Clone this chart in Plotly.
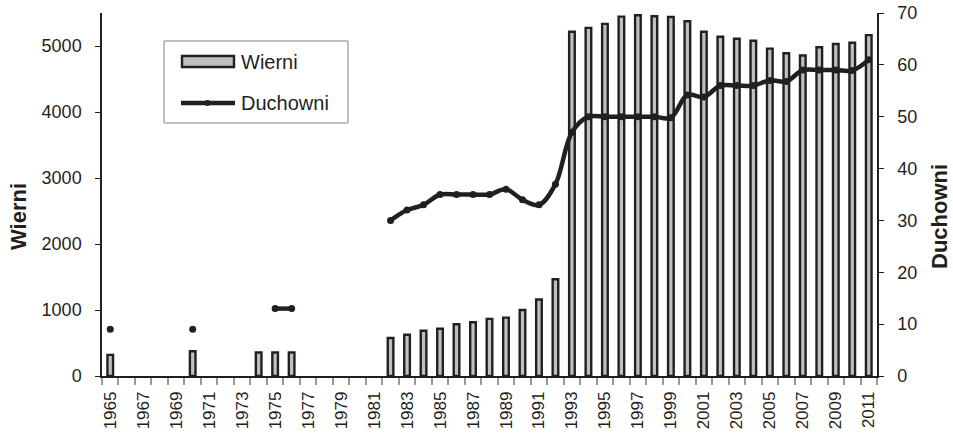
import plotly.graph_objects as go

# Years on the category axis
years = list(range(1965, 2012))

# Wierni (left axis) — None where no data was recorded
wierni = [
    320, None, None, None, None, 375, None, None, None, 355,
    355, 355, None, None, None, None, None, 575, 625, 685,
    715, 785, 815, 865, 885, 1000, 1160, 1465, 5215, 5275,
    5335, 5445, 5465, 5450, 5440, 5375, 5215, 5140, 5110, 5080,
    4960, 4890, 4855, 4980, 5030, 5050, 5165,
]

# Duchowni (right axis)
duchowni = [
    9, None, None, None, None, 9, None, None, None, None,
    13, 13, None, None, None, None, None, 30, 32, 33,
    35, 35, 35, 35, 36, 34, 33, 37, 47, 50,
    50, 50, 50, 50, 49.8, 54.2, 53.8, 56, 56, 56,
    57, 56.8, 59, 59, 59, 58.9, 61,
]

# Axis tick labels
x_tick_years = list(range(1965, 2012, 2))
left_ticks = [0, 1000, 2000, 3000, 4000, 5000]
right_ticks = [0, 10, 20, 30, 40, 50, 60, 70]

W, H = 953, 434
ML, MR, MT, MB = 102, 76, 13, 58
PW, PH = W - ML - MR, H - MT - MB

INK = "#231f20"
FONT = "Liberation Sans, Arial, sans-serif"


def px_x(px):
    return (px - ML) / PW


def px_y(py):
    return (H - MB - py) / PH


fig = go.Figure()

fig.add_trace(go.Bar(
    x=years, y=wierni, name="Wierni", width=0.34,
    marker=dict(color="#c0c0c0", line=dict(color=INK, width=2.4)),
    showlegend=False,
))

fig.add_trace(go.Scatter(
    x=years, y=duchowni, name="Duchowni", yaxis="y2",
    mode="lines+markers", connectgaps=False,
    line=dict(color=INK, width=4.5, shape="spline", smoothing=1),
    marker=dict(color=INK, size=7),
    showlegend=False,
))

# Legend box drawn in the Excel style (wide bar swatch, line with dot)
shapes = [
    dict(type="rect", xref="paper", yref="paper",
         x0=px_x(164), x1=px_x(348), y0=px_y(123), y1=px_y(41),
         line=dict(color="#808080", width=1), fillcolor="white", layer="above"),
    dict(type="rect", xref="paper", yref="paper",
         x0=px_x(182), x1=px_x(234), y0=px_y(67), y1=px_y(56),
         line=dict(color=INK, width=2.4), fillcolor="#c0c0c0", layer="above"),
    dict(type="line", xref="paper", yref="paper",
         x0=px_x(181), x1=px_x(235), y0=px_y(103), y1=px_y(103),
         line=dict(color=INK, width=4.5), layer="above"),
    dict(type="circle", xref="paper", yref="paper",
         x0=px_x(204.5), x1=px_x(210.5), y0=px_y(106), y1=px_y(100),
         line=dict(color=INK, width=0), fillcolor=INK, layer="above"),
]

annotations = [
    dict(text="Wierni", xref="paper", yref="paper", x=px_x(239), y=px_y(62),
         xanchor="left", yanchor="middle", showarrow=False,
         font=dict(family=FONT, size=20, color=INK)),
    dict(text="Duchowni", xref="paper", yref="paper", x=px_x(239), y=px_y(103),
         xanchor="left", yanchor="middle", showarrow=False,
         font=dict(family=FONT, size=20, color=INK)),
    dict(text="<b>Wierni</b>", xref="paper", yref="paper", x=px_x(18), y=px_y(217),
         xanchor="center", yanchor="middle", showarrow=False, textangle=-90,
         font=dict(family=FONT, size=22, color=INK)),
    dict(text="<b>Duchowni</b>", xref="paper", yref="paper", x=px_x(939), y=px_y(217),
         xanchor="center", yanchor="middle", showarrow=False, textangle=-90,
         font=dict(family=FONT, size=22, color=INK)),
]

fig.update_layout(
    width=W, height=H,
    margin=dict(l=ML, r=MR, t=MT, b=MB, pad=0),
    paper_bgcolor="white", plot_bgcolor="white",
    font=dict(family=FONT, size=17, color=INK),
    shapes=shapes,
    annotations=annotations,
    xaxis=dict(
        range=[1964.5, 2011.5], automargin=False,
        tickmode="array", tickvals=x_tick_years,
        ticktext=[str(y) for y in x_tick_years],
        tickangle=-90, ticks="", ticklen=0, ticklabelstandoff=7,
        tickfont=dict(family=FONT, size=17, color=INK),
        showgrid=False, zeroline=False,
        showline=True, linecolor=INK, linewidth=1.5,
        minor=dict(tickmode="array",
                   tickvals=[y + 0.5 for y in range(1964, 2012)],
                   ticks="outside", ticklen=7, tickcolor="#9a9a9a",
                   tickwidth=1.5, showgrid=False),
    ),
    yaxis=dict(
        range=[0, 5500], automargin=False,
        tickmode="array", tickvals=left_ticks,
        ticks="outside", ticklen=5, tickcolor=INK, tickwidth=1,
        ticklabelstandoff=10,
        tickfont=dict(family=FONT, size=18, color=INK),
        showgrid=False, zeroline=False,
        showline=True, linecolor=INK, linewidth=1.5,
    ),
    yaxis2=dict(
        range=[0, 70], overlaying="y", side="right", automargin=False,
        tickmode="array", tickvals=right_ticks,
        ticks="outside", ticklen=5, tickcolor=INK, tickwidth=1,
        ticklabelstandoff=10,
        tickfont=dict(family=FONT, size=18, color=INK),
        showgrid=False, zeroline=False,
        showline=True, linecolor=INK, linewidth=1.5,
    ),
)

fig.write_html("out.html")
